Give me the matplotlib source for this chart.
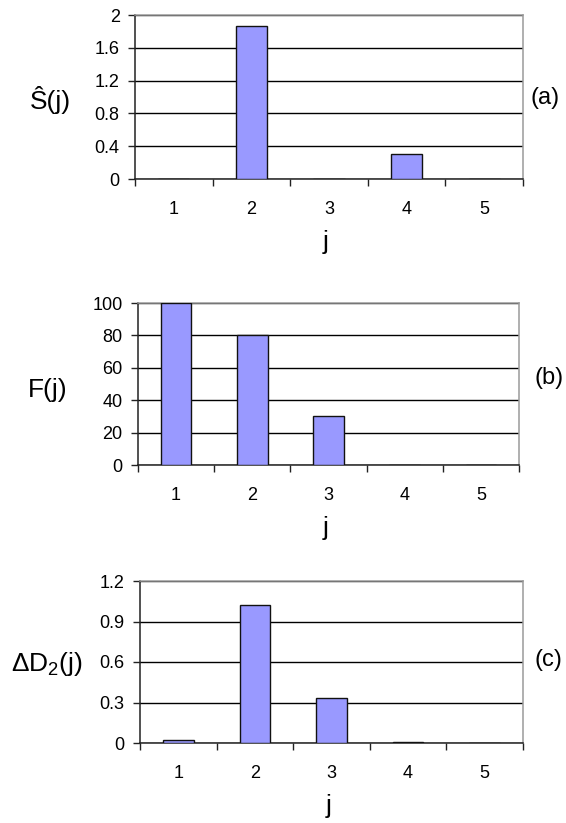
import matplotlib
matplotlib.use("Agg")
import matplotlib.pyplot as plt
from matplotlib.ticker import FixedLocator, NullFormatter

plt.rcParams['font.family'] = ['Liberation Sans', 'DejaVu Sans']
plt.rcParams['mathtext.fontset'] = 'custom'
plt.rcParams['mathtext.rm'] = 'Liberation Sans'
plt.rcParams['mathtext.it'] = 'Liberation Sans'

# data
j_vals = [1, 2, 3, 4, 5]
s_hat = [0, 1.86, 0, 0.30, 0]
f_vals = [100, 80, 30, 0, 0]
delta_d2 = [0.02, 1.02, 0.33, 0.01, 0]

s_ticks = [0, 0.4, 0.8, 1.2, 1.6, 2]
s_ticklabels = ["0", "0.4", "0.8", "1.2", "1.6", "2"]
f_ticks = [0, 20, 40, 60, 80, 100]
f_ticklabels = ["0", "20", "40", "60", "80", "100"]
d_ticks = [0, 0.3, 0.6, 0.9, 1.2]
d_ticklabels = ["0", "0.3", "0.6", "0.9", "1.2"]

W, H = 566, 823
fig = plt.figure(figsize=(W / 100, H / 100), dpi=100)

BAR = "#9999ff"
TICK_FS = 13
LABEL_FS = 19
TAG_FS = 17


def px_axes(l, r, t, b):
    return fig.add_axes([l / W, 1 - b / H, (r - l) / W, (b - t) / H])


def draw_panel(box, values, ticks, ticklabels, ylabel, ylab_xy, tag, tag_xy):
    ax = px_axes(*box)
    ax.bar(j_vals, values, width=0.4, color=BAR, edgecolor="#111111",
           linewidth=1.0, zorder=3)
    ax.set_xlim(0.5, 5.5)
    ax.set_ylim(ticks[0], ticks[-1])
    ax.set_yticks(ticks)
    ax.set_yticklabels(ticklabels)
    ax.yaxis.grid(True, color="black", linewidth=1.0)
    ax.set_axisbelow(True)

    # category boundaries get the tick marks, labels sit in between
    ax.xaxis.set_major_locator(FixedLocator([k + 0.5 for k in range(0, 6)]))
    ax.xaxis.set_major_formatter(NullFormatter())
    ax.xaxis.set_minor_locator(FixedLocator(j_vals))
    ax.set_xticklabels([str(v) for v in j_vals], minor=True)
    ax.tick_params(axis="x", which="major", direction="out", length=5,
                   width=1.0, color="#222222")
    ax.tick_params(axis="x", which="minor", length=0, pad=16,
                   labelsize=TICK_FS)
    ax.tick_params(axis="y", direction="out", length=5, width=1.0,
                   color="#222222", pad=6, labelsize=TICK_FS)

    for side in ["left", "bottom"]:
        ax.spines[side].set_color("#222222")
        ax.spines[side].set_linewidth(1.1)
    for side in ["top", "right"]:
        ax.spines[side].set_color("#9a9a9a")
        ax.spines[side].set_linewidth(1.1)

    l, r, t, b = box
    fig.text(((l + r) / 2 - 3) / W, 1 - (b + 63) / H, "j", fontsize=LABEL_FS,
             ha="center", va="center")
    fig.text(ylab_xy[0] / W, 1 - ylab_xy[1] / H, ylabel, fontsize=LABEL_FS,
             ha="center", va="center")
    fig.text(tag_xy[0] / W, 1 - tag_xy[1] / H, tag, fontsize=TAG_FS,
             ha="center", va="center")
    return ax


draw_panel((135, 523, 15, 179), s_hat, s_ticks, s_ticklabels,
           "Ŝ(j)", (50, 100), "(a)", (545, 98))
draw_panel((138, 519, 303, 465), f_vals, f_ticks, f_ticklabels,
           "F(j)", (48, 390), "(b)", (549, 378))
draw_panel((140, 523, 581, 743), delta_d2, d_ticks, d_ticklabels,
           r"ΔD$_2$(j)", (47, 664), "(c)", (548, 660))

fig.savefig("out.png", dpi=100)
